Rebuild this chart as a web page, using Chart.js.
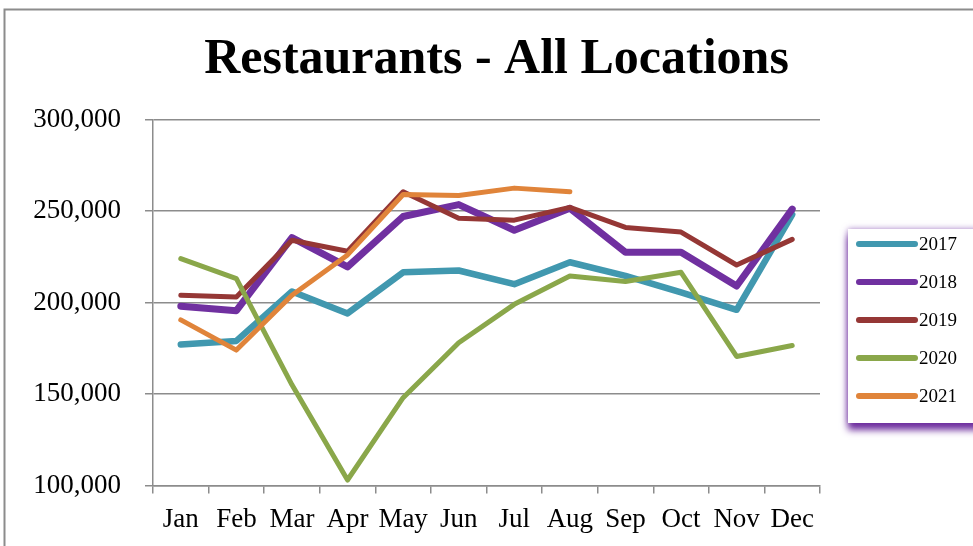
<!DOCTYPE html>
<html>
<head>
<meta charset="utf-8">
<script src="https://cdn.jsdelivr.net/npm/chart.js@4/dist/chart.umd.min.js"></script>
<style>
  html, body { margin: 0; padding: 0; background: #ffffff; }
  #wrap { width: 973px; height: 546px; position: relative; }
</style>
</head>
<body>
<div id="wrap"><canvas id="c" width="973" height="546"></canvas></div>
<script>
const months = ['Jan','Feb','Mar','Apr','May','Jun','Jul','Aug','Sep','Oct','Nov','Dec'];
const seriesNames = ['2017','2018','2019','2020','2021'];
const s2017 = [177000,179000,206000,194000,216500,217500,210000,222000,214500,205500,196000,248000];
const s2018 = [198000,195500,235500,219500,247000,253500,239500,251500,227500,227500,209000,251000];
const s2019 = [204000,203000,234000,228000,260500,246000,245000,252000,241000,238500,220500,234500];
const s2020 = [224000,213000,155000,103000,148000,178000,199000,214500,211500,216500,170500,176500];
const s2021 = [190500,174000,204000,226000,259000,258500,262500,260500,null,null,null,null];
const yTicks = [100000,150000,200000,250000,300000];

const colors = ['#4198AF','#7030A0','#953735','#8AA74A','#E0843A'];
const widths = [6.5, 7, 5, 5, 5];
const allSeries = [s2017, s2018, s2019, s2020, s2021];

const gridColor = '#8c8c8c';
const serif = "'Liberation Serif', 'DejaVu Serif', serif";

const frameAndLegend = {
  id: 'frameAndLegend',
  beforeDraw(chart) {
    const ctx = chart.ctx;
    ctx.save();
    ctx.fillStyle = '#ffffff';
    ctx.fillRect(0, 0, chart.width, chart.height);
    ctx.strokeStyle = '#8c8c8c';
    ctx.lineWidth = 2;
    ctx.beginPath();
    ctx.moveTo(4.5, chart.height);
    ctx.lineTo(4.5, 9.5);
    ctx.lineTo(chart.width, 9.5);
    ctx.stroke();
    ctx.restore();
  },
  afterDraw(chart) {
    const ctx = chart.ctx;
    const area = chart.chartArea;
    const bx = area.right + 28, by = 229, bw = 140, bh = 194;
    ctx.save();
    ctx.shadowColor = 'rgba(112,48,160,1)';
    ctx.shadowBlur = 7;
    ctx.shadowOffsetX = 0;
    ctx.shadowOffsetY = 7;
    ctx.fillStyle = '#ffffff';
    ctx.fillRect(bx, by, bw, bh);
    ctx.shadowColor = 'rgba(112,48,160,0.6)';
    ctx.shadowBlur = 6;
    ctx.shadowOffsetY = 0;
    ctx.fillRect(bx, by, bw, bh);
    ctx.restore();
    ctx.save();
    chart.data.datasets.forEach((ds, i) => {
      const y = by + 15 + i * 38;
      ctx.strokeStyle = ds.borderColor;
      ctx.lineWidth = 6;
      ctx.lineCap = 'round';
      ctx.beginPath();
      ctx.moveTo(bx + 11, y);
      ctx.lineTo(bx + 67, y);
      ctx.stroke();
      ctx.fillStyle = '#000000';
      ctx.font = '19px ' + serif;
      ctx.textBaseline = 'middle';
      ctx.textAlign = 'left';
      ctx.fillText(ds.label, bx + 71, y + 1);
    });
    ctx.restore();
  }
};

const datasets = allSeries.map((vals, i) => ({
  label: seriesNames[i],
  data: vals,
  borderColor: colors[i],
  backgroundColor: colors[i],
  borderWidth: widths[i],
  pointRadius: 0,
  pointHoverRadius: 0,
  tension: 0,
  fill: false,
  spanGaps: false,
  borderCapStyle: 'round',
  borderJoinStyle: 'round',
  yAxisID: 'y',
  order: 5 - i
}));

new Chart(document.getElementById('c'), {
  type: 'line',
  data: { labels: months, datasets },
  plugins: [frameAndLegend],
  options: {
    responsive: false,
    animation: false,
    layout: { padding: { left: 20, right: 0, top: 0, bottom: 0 } },
    plugins: {
      legend: { display: false },
      tooltip: { enabled: false },
      title: {
        display: true,
        text: 'Restaurants - All Locations',
        color: '#000000',
        font: { family: serif, size: 50, weight: 'bold', lineHeight: 1.2 },
        padding: { top: 30, bottom: 29.5 }
      }
    },
    scales: {
      x: {
        offset: true,
        grid: {
          offset: true,
          drawOnChartArea: false,
          drawTicks: true,
          tickLength: 8,
          color: gridColor,
          lineWidth: 1.5
        },
        border: { display: true, color: gridColor, width: 1.5 },
        ticks: {
          color: '#000000',
          font: { family: serif, size: 27 },
          padding: 10,
          maxRotation: 0,
          autoSkip: false
        },
        afterFit(scale) { scale.height = 60.5; }
      },
      y: {
        position: 'left',
        min: yTicks[0],
        max: yTicks[yTicks.length - 1],
        afterBuildTicks(scale) { scale.ticks = yTicks.map(v => ({ value: v })); },
        grid: {
          drawTicks: true,
          tickLength: 8,
          color: gridColor,
          lineWidth: 1.5
        },
        border: { display: true, color: gridColor, width: 1.5 },
        ticks: {
          color: '#000000',
          font: { family: serif, size: 27 },
          padding: 24,
          callback: v => Number(v).toLocaleString('en-US')
        },
        afterFit(scale) { scale.width = 133; }
      },
      legendSpace: {
        position: 'right',
        display: true,
        min: 0,
        max: 1,
        grid: { display: false, drawTicks: false },
        border: { display: false },
        ticks: { display: false },
        afterFit(scale) { scale.width = 153; }
      }
    }
  }
});
</script>
</body>
</html>
